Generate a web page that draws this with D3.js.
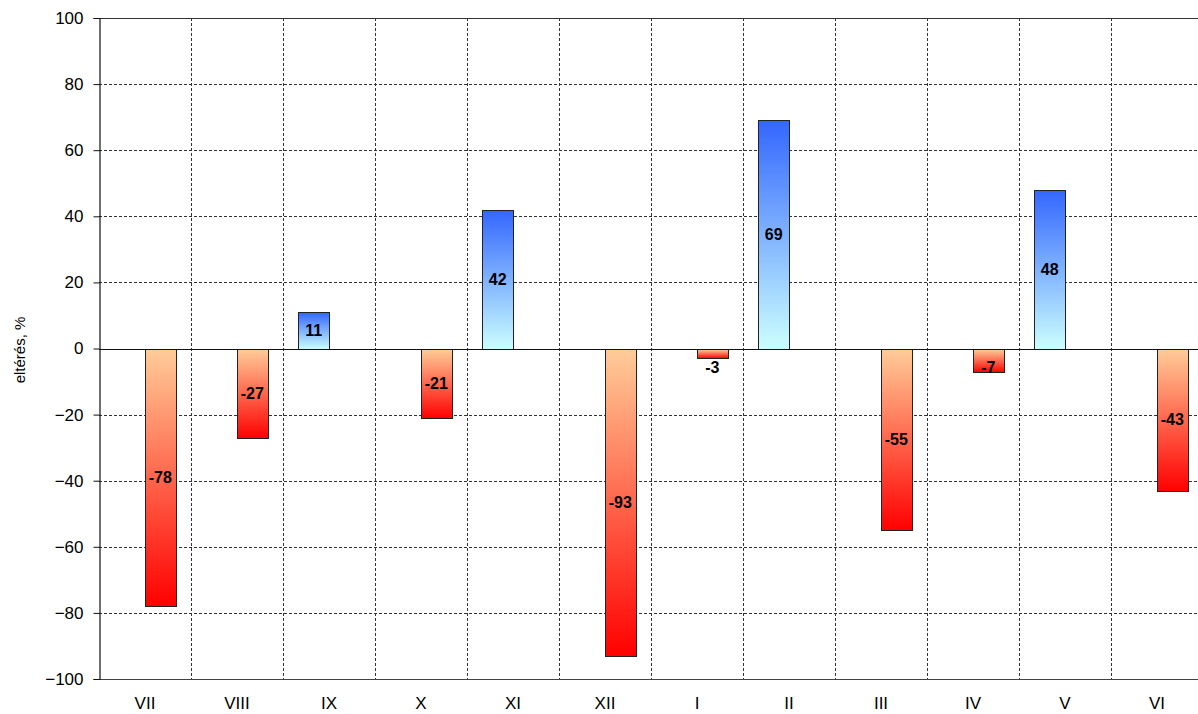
<!DOCTYPE html>
<html>
<head>
<meta charset="utf-8">
<script src="https://cdn.jsdelivr.net/npm/d3@7"></script>
<style>
  html, body { margin: 0; padding: 0; background: #fff; overflow: hidden; }
  svg { display: block; font-family: "Liberation Sans", Arial, sans-serif; }
</style>
</head>
<body>
<svg id="chart" width="1198" height="714"></svg>
<script>
// Monthly deviation from the long-term mean, %
const months = ["VII", "VIII", "IX", "X", "XI", "XII", "I", "II", "III", "IV", "V", "VI"];
const deviation = [-78, -27, 11, -21, 42, -93, -3, 69, -55, -7, 48, -43];
const yTicks = [-100, -80, -60, -40, -20, 0, 20, 40, 60, 80, 100];
const yTitle = "eltérés, %";

const svg = d3.select("#chart");
const plot = { left: 99, right: 1203, top: 18, bottom: 679 };

const x = d3.scaleBand().domain(months).range([plot.left, plot.right]).padding(0);
// two slots per month: surplus (left) and deficit (right)
const slot = d3.scaleBand().domain(["pos", "neg"]).range([0, x.bandwidth()])
  .paddingInner(0).paddingOuter(0.5);
const y = d3.scaleLinear().domain([-100, 100]).range([plot.bottom, plot.top]);

// gradients
const defs = svg.append("defs");
const gPos = defs.append("linearGradient").attr("id", "gradPos")
  .attr("x1", 0).attr("y1", 0).attr("x2", 0).attr("y2", 1);
gPos.append("stop").attr("offset", "0%").attr("stop-color", "#3366ff");
gPos.append("stop").attr("offset", "100%").attr("stop-color", "#ccffff");
const gNeg = defs.append("linearGradient").attr("id", "gradNeg")
  .attr("x1", 0).attr("y1", 0).attr("x2", 0).attr("y2", 1);
gNeg.append("stop").attr("offset", "0%").attr("stop-color", "#ffcc99");
gNeg.append("stop").attr("offset", "100%").attr("stop-color", "#ff0000");

// horizontal grid
svg.append("g").selectAll("line").data(yTicks.filter(t => t !== 0 && t !== 100 && t !== -100))
  .join("line")
  .attr("x1", plot.left).attr("x2", plot.right)
  .attr("y1", d => Math.round(y(d)) + 0.5).attr("y2", d => Math.round(y(d)) + 0.5)
  .attr("stroke", "#333").attr("stroke-width", 1).attr("stroke-dasharray", "3,2");

// vertical grid at month boundaries
svg.append("g").selectAll("line").data(months.slice(1))
  .join("line")
  .attr("x1", d => Math.round(x(d)) + 0.5).attr("x2", d => Math.round(x(d)) + 0.5)
  .attr("y1", plot.top).attr("y2", plot.bottom)
  .attr("stroke", "#333").attr("stroke-width", 1).attr("stroke-dasharray", "3,2");

// plot frame (top and bottom)
svg.append("line").attr("x1", plot.left).attr("x2", plot.right)
  .attr("y1", plot.top + 0.5).attr("y2", plot.top + 0.5).attr("stroke", "#333").attr("stroke-width", 1.2);
svg.append("line").attr("x1", plot.left).attr("x2", plot.right)
  .attr("y1", plot.bottom + 0.5).attr("y2", plot.bottom + 0.5).attr("stroke", "#444").attr("stroke-width", 1);

// bars
const data = months.map((m, i) => ({ m, v: deviation[i] }));
svg.append("g").selectAll("rect").data(data).join("rect")
  .attr("x", d => Math.round(x(d.m) + slot(d.v >= 0 ? "pos" : "neg")) + 0.5)
  .attr("width", Math.round(slot.bandwidth()))
  .attr("y", d => Math.round(y(Math.max(0, d.v))) + 0.5)
  .attr("height", d => Math.abs(Math.round(y(d.v)) - Math.round(y(0))))
  .attr("fill", d => d.v >= 0 ? "url(#gradPos)" : "url(#gradNeg)")
  .attr("stroke", "#222").attr("stroke-width", 1);

// zero line
svg.append("line").attr("x1", plot.left).attr("x2", plot.right)
  .attr("y1", Math.round(y(0)) + 0.5).attr("y2", Math.round(y(0)) + 0.5)
  .attr("stroke", "#111").attr("stroke-width", 1);

// value labels
svg.append("g").selectAll("text").data(data).join("text")
  .attr("x", d => x(d.m) + slot(d.v >= 0 ? "pos" : "neg") + slot.bandwidth() / 2)
  .attr("y", d => {
    const mid = (y(0) + y(d.v)) / 2;
    return d.v >= 0 ? mid : Math.max(mid, y(0) + 19);
  })
  .attr("text-anchor", "middle").attr("dominant-baseline", "central")
  .attr("font-size", 16).attr("font-weight", "bold").attr("fill", "#000")
  .text(d => d.v);

// y axis
const yAxis = svg.append("g").attr("transform", `translate(${plot.left + 0.5},0)`)
  .call(d3.axisLeft(y).tickValues(yTicks).tickSize(6).tickPadding(10).tickFormat(d3.format("d")));
yAxis.select(".domain").attr("stroke", "#111").attr("stroke-width", 1.2);
yAxis.selectAll(".tick line").attr("stroke", "#111");
yAxis.selectAll(".tick text").attr("font-size", 17).attr("fill", "#000")
  .attr("font-family", "'Liberation Sans', Arial, sans-serif");

// x axis labels
svg.append("g").selectAll("text").data(months).join("text")
  .attr("x", d => x(d) + x.bandwidth() / 2)
  .attr("y", 703)
  .attr("text-anchor", "middle").attr("dominant-baseline", "central")
  .attr("font-size", 17).attr("fill", "#000")
  .text(d => d);

// y axis title
svg.append("text")
  .attr("transform", "translate(19,350) rotate(-90)")
  .attr("text-anchor", "middle").attr("dominant-baseline", "central")
  .attr("font-size", 15).attr("fill", "#000")
  .text(yTitle);
</script>
</body>
</html>
